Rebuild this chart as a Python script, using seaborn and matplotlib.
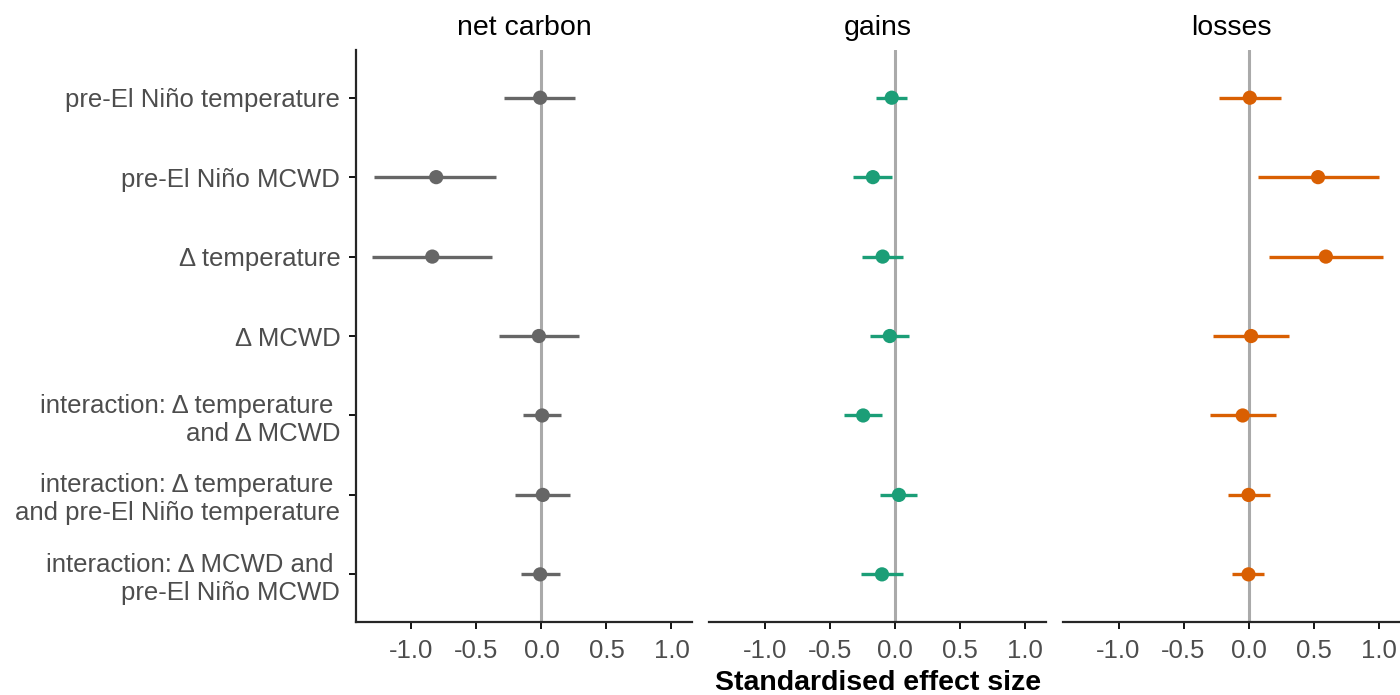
import matplotlib
matplotlib.use("Agg")
import matplotlib.pyplot as plt
import numpy as np
import pandas as pd
import seaborn as sns

# ---- data ----
terms = [
    "pre-El Niño temperature",
    "pre-El Niño MCWD",
    "Δ temperature",
    "Δ MCWD",
    "interaction: Δ temperature \nand Δ MCWD",
    "interaction: Δ temperature \nand pre-El Niño temperature",
    "interaction: Δ MCWD and \npre-El Niño MCWD",
]
responses = ["net carbon", "gains", "losses"]

net_est = [-0.01, -0.81, -0.84, -0.02, 0.005, 0.01, -0.01]
net_lo = [-0.29, -1.285, -1.30, -0.33, -0.14, -0.20, -0.16]
net_hi = [0.26, -0.35, -0.38, 0.29, 0.15, 0.22, 0.145]

gain_est = [-0.025, -0.17, -0.095, -0.04, -0.245, 0.03, -0.10]
gain_lo = [-0.145, -0.325, -0.255, -0.19, -0.39, -0.115, -0.265]
gain_hi = [0.09, -0.02, 0.065, 0.11, -0.10, 0.17, 0.065]

loss_est = [0.01, 0.535, 0.595, 0.02, -0.045, 0.0, 0.0]
loss_lo = [-0.23, 0.07, 0.16, -0.27, -0.30, -0.16, -0.125]
loss_hi = [0.25, 1.00, 1.035, 0.31, 0.215, 0.165, 0.12]

colors = ["#666666", "#1B9E77", "#D95F02"]

frames = []
for resp, est, lo, hi in zip(responses,
                             [net_est, gain_est, loss_est],
                             [net_lo, gain_lo, loss_lo],
                             [net_hi, gain_hi, loss_hi]):
    frames.append(pd.DataFrame({"term": terms, "pos": np.arange(len(terms)),
                                "response": resp, "est": est, "lo": lo, "hi": hi}))
df = pd.concat(frames, ignore_index=True)

# ---- plot ----
sns.set_theme(style="ticks")
plt.rcParams["font.family"] = ["Liberation Sans", "DejaVu Sans"]

fig, axes = plt.subplots(1, 3, figsize=(14, 6.95), dpi=100, sharey=True)
fig.subplots_adjust(left=0.254, right=0.9995, top=0.928, bottom=0.105, wspace=0.05)

xmin, xmax = -1.43, 1.16
for ax, resp, col in zip(axes, responses, colors):
    sub = df[df["response"] == resp]
    ax.axvline(0, color="#AAAAAA", lw=2.2, zorder=1)
    ax.hlines(sub["pos"], sub["lo"], sub["hi"], color=col, lw=2.4, zorder=2)
    sns.scatterplot(data=sub, x="est", y="pos", ax=ax, color=col, s=105,
                    edgecolor="none", zorder=3, legend=False)
    ax.set_xlim(xmin, xmax)
    ax.set_ylim(len(terms) - 0.4, -0.6)
    ax.set_xticks([-1.0, -0.5, 0.0, 0.5, 1.0])
    ax.set_xticklabels(["-1.0", "-0.5", "0.0", "0.5", "1.0"])
    ax.set_title(resp, fontsize=20.5, pad=11, color="black")
    ax.set_xlabel("")
    ax.set_ylabel("")
    ax.tick_params(axis="x", labelsize=18.5, labelcolor="#4D4D4D", length=5, width=1.3,
                   color="black", pad=7)
    ax.tick_params(axis="y", labelsize=18.5, labelcolor="#4D4D4D", length=5, width=1.3,
                   color="black", pad=6)
    for s in ["top", "right"]:
        ax.spines[s].set_visible(False)
    ax.spines["bottom"].set_linewidth(1.6)
    ax.spines["left"].set_linewidth(1.6)
    if ax is not axes[0]:
        ax.spines["left"].set_visible(False)
        ax.tick_params(axis="y", left=False)

axes[0].set_yticks(np.arange(len(terms)))
axes[0].set_yticklabels(terms)

fig.text(0.627, 0.0072, "Standardised effect size", ha="center", va="baseline",
         fontsize=20.5, fontweight="bold", color="black")

fig.savefig("out.png", dpi=100)
